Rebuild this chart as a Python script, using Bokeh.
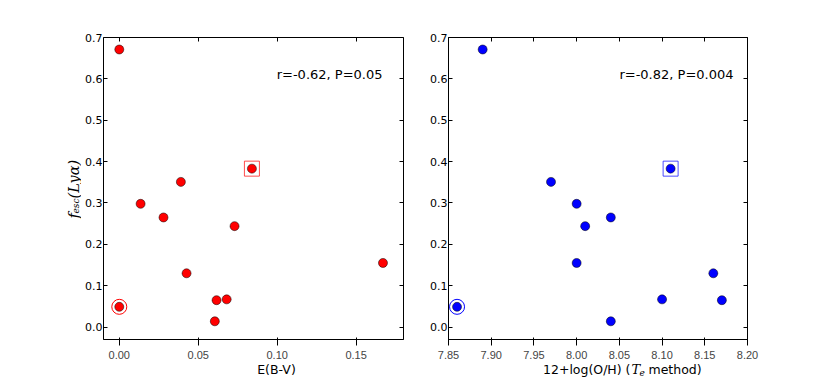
import math
from bokeh.plotting import figure
from bokeh.models import (Range1d, FixedTicker, PrintfTickFormatter, LinearAxis, Label)
from bokeh.layouts import row, column
from bokeh.embed import file_html
from bokeh.resources import INLINE

# ---- data ----
fesc = [0.671, 0.383, 0.351, 0.298, 0.265, 0.244, 0.155, 0.130, 0.067, 0.065, 0.049, 0.014]
ebv = [0.000, 0.084, 0.039, 0.0135, 0.028, 0.073, 0.167, 0.0426, 0.068, 0.0616, 0.000, 0.0605]
oh = [7.89, 8.11, 7.97, 8.00, 8.04, 8.01, 8.00, 8.16, 8.10, 8.17, 7.86, 8.04]

circled_fesc = [0.049]
circled_ebv = [0.000]
circled_oh = [7.86]
boxed_fesc = [0.383]
boxed_ebv = [0.084]
boxed_oh = [8.11]

y_ticks = [0.0, 0.1, 0.2, 0.3, 0.4, 0.5, 0.6, 0.7]
ebv_ticks = [0.00, 0.05, 0.10, 0.15]
oh_ticks = [7.85, 7.90, 7.95, 8.00, 8.05, 8.10, 8.15, 8.20]

stat_left = "r=-0.62, P=0.05"
stat_right = "r=-0.82, P=0.004"

FONT = "DejaVu Sans"
MATH = "DejaVu Serif"
H = 378          # page height
XLH = 17         # height of the x-label strips
YW = 81          # width of the y-label strip


def make_fig(fw, bl, br, xr, xticks, xfmt):
    p = figure(frame_width=fw, frame_height=302, output_backend="svg", toolbar_location=None,
               x_range=Range1d(*xr), y_range=Range1d(-0.03, 0.7),
               min_border_left=bl, min_border_right=br, min_border_top=37,
               min_border_bottom=19)
    p.background_fill_color = "white"
    p.border_fill_color = "white"
    p.outline_line_color = "black"
    p.outline_line_width = 1
    p.outline_line_alpha = 1
    p.xgrid.visible = False
    p.ygrid.visible = False
    p.xaxis.ticker = FixedTicker(ticks=xticks)
    p.xaxis.formatter = PrintfTickFormatter(format=xfmt)
    p.yaxis.ticker = FixedTicker(ticks=y_ticks)
    p.yaxis.formatter = PrintfTickFormatter(format="%.1f")
    top = LinearAxis(ticker=FixedTicker(ticks=xticks))
    right = LinearAxis(ticker=FixedTicker(ticks=y_ticks))
    p.add_layout(top, "above")
    p.add_layout(right, "right")
    for ax in [p.xaxis[0], p.yaxis[0], top, right]:
        ax.axis_line_color = None
        ax.major_tick_in = 4
        ax.major_tick_out = 0
        ax.major_tick_line_color = "black"
        ax.minor_tick_line_color = None
        ax.major_label_text_font = FONT
        ax.major_label_text_font_size = "11px"
        ax.major_label_text_color = "black"
    p.xaxis[0].major_label_standoff = -4
    p.yaxis[0].major_label_standoff = 1
    for ax in [top, right]:
        ax.major_label_text_font_size = "1px"
        ax.major_label_text_color = None
        ax.major_label_standoff = 0
    return p


def text_fig(width, height):
    f = figure(width=width, height=height, output_backend="svg", toolbar_location=None,
               x_axis_location=None, y_axis_location=None, min_border=0,
               x_range=Range1d(0, 1), y_range=Range1d(0, 1))
    f.outline_line_color = None
    f.grid.visible = False
    f.background_fill_color = "white"
    f.border_fill_color = "white"
    return f


def lab(p, x, y, text, size, font=FONT, style="normal", align="left", baseline="alphabetic",
        angle=0.0):
    p.add_layout(Label(x=x, y=y, x_units="screen", y_units="screen", text=text,
                       text_font=font, text_font_size=size, text_font_style=style,
                       text_align=align, text_baseline=baseline, angle=angle,
                       text_color="black"))


# ---- y-axis label strip (page x 0..YW) ----
yl = text_fig(YW, H)
lab(yl, 73, H - 218, "f", "15px", font=MATH, style="italic", angle=math.pi / 2)
lab(yl, 75, H - 213, "esc", "9px", font=MATH, style="italic", angle=math.pi / 2)
lab(yl, 73, H - 198, "(Lyα)", "14.5px", font=MATH, style="italic", angle=math.pi / 2)

# ---- left panel (frame page x 103..403) ----
p1 = make_fig(300, 103 - YW, 17, (-0.01, 0.18), ebv_ticks, "%.2f")
p1.scatter(circled_ebv, circled_fesc, size=15, marker="circle", fill_color=None,
           line_color="red", line_width=1)
p1.scatter(boxed_ebv, boxed_fesc, size=15, marker="square", fill_color=None,
           line_color="red", line_alpha=0.7, line_width=1)
p1.scatter(ebv, fesc, size=9, marker="circle", fill_color="red", line_color="black", line_width=0.5)
lab(p1, 382 - 103, 339 - 74, stat_left, "13px", align="right", baseline="middle")
xl1 = text_fig(103 - YW + 300 + 17, XLH)
lab(xl1, 254 - YW, 9, "E(B-V)", "12.5px", align="center")

# ---- right panel (frame page x 448..747) ----
p2 = make_fig(299, 28, 70, (7.85, 8.20), oh_ticks, "%.2f")
p2.scatter(circled_oh, circled_fesc, size=15, marker="circle", fill_color=None,
           line_color="blue", line_width=1)
p2.scatter(boxed_oh, boxed_fesc, size=15, marker="square", fill_color=None,
           line_color="blue", line_alpha=0.7, line_width=1)
p2.scatter(oh, fesc, size=9, marker="circle", fill_color="blue", line_color="black", line_width=0.5)
lab(p2, 733 - 448, 339 - 74, stat_right, "13px", align="right", baseline="middle")
xl2 = text_fig(28 + 299 + 70, XLH)
lab(xl2, 602 - 420, 9, "12+log(O/H) (", "12.5px", align="right")
lab(xl2, 603 - 420, 9, "T", "13px", font=MATH, style="italic")
lab(xl2, 611 - 420, 6, "e", "9px", font=MATH, style="italic")
lab(xl2, 620 - 420, 9, "method)", "12.5px")

layout = row(yl, column(p1, xl1), column(p2, xl2))
open("out.html", "w").write(file_html(layout, INLINE))
